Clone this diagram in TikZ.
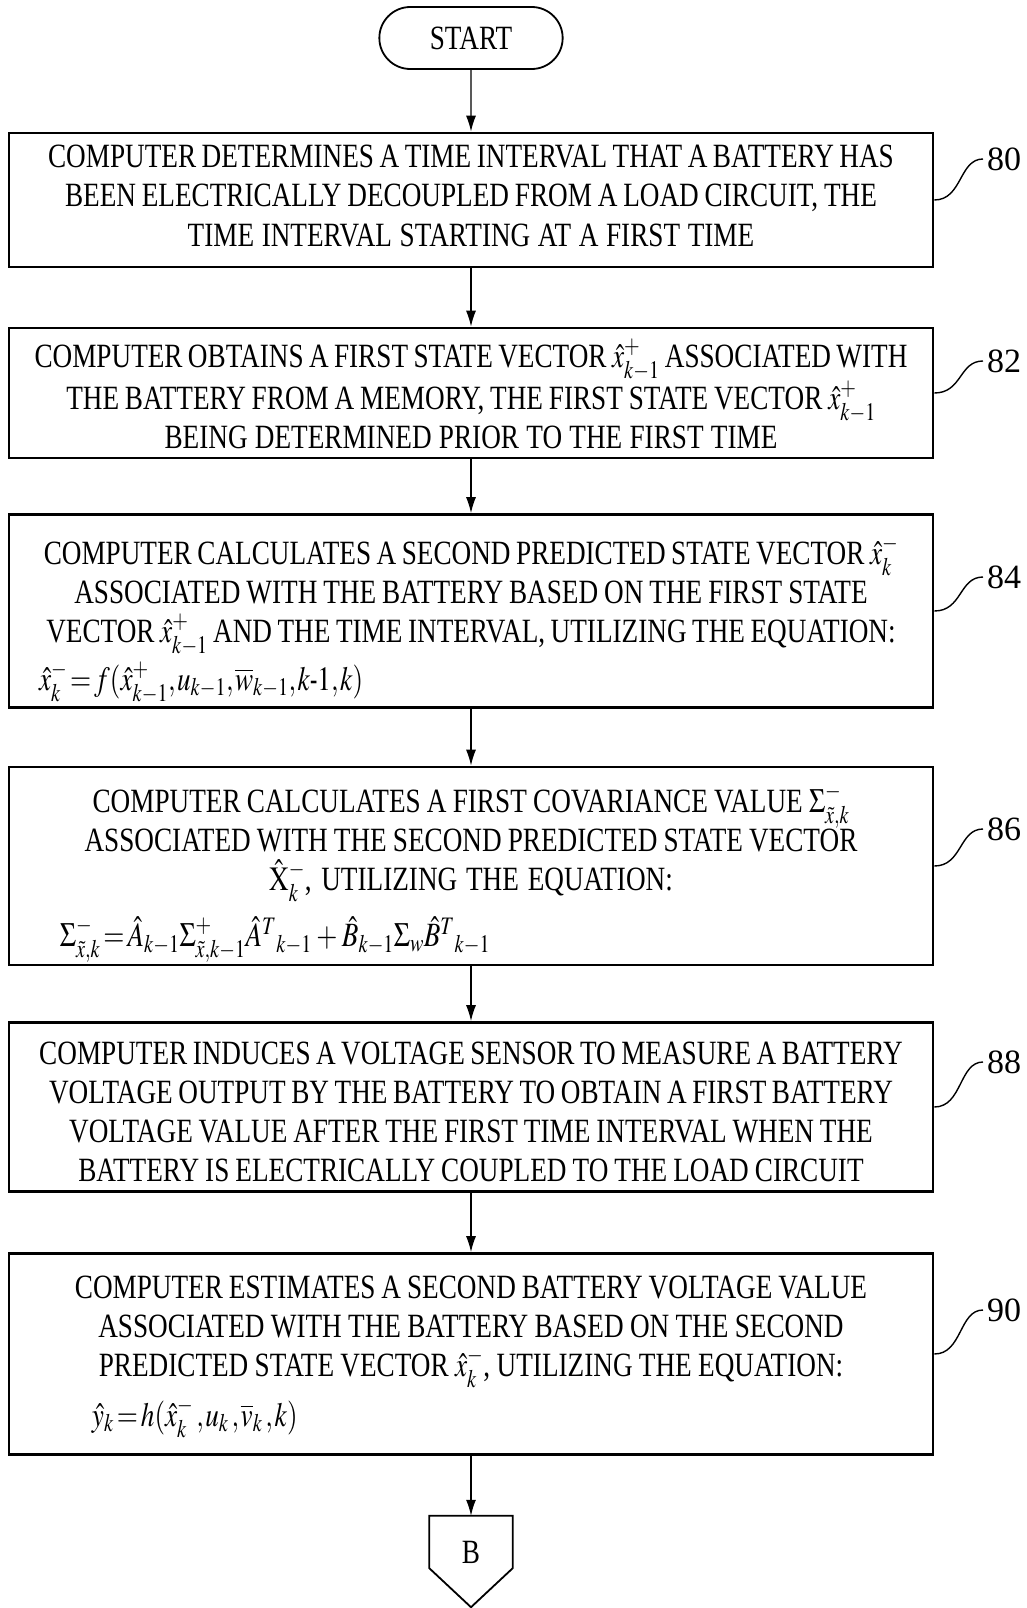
\documentclass[tikz,border=0pt]{standalone}
\usepackage{mathptmx}
\usepackage[no-math]{fontspec}
\setmainfont[FakeStretch=0.8]{Liberation Serif}
\newfontfamily\labelfont{Liberation Serif}
\usetikzlibrary{arrows.meta,shapes.misc,calc}

% condensed maths, as in the printed figure
\newcommand{\nmath}[1]{\scalebox{0.8}[1]{$#1$}}

\tikzset{
  stepbox/.style={draw, line width=2.6pt, minimum width=924pt, text width=924pt,
    inner xsep=0pt, inner ysep=0pt, align=center, font=\fontsize{34}{39}\selectfont,
    execute at begin node={\spaceskip=5pt plus 1pt\relax\thickmuskip=2mu\medmuskip=3mu\thinmuskip=1mu}},
  startbox/.style={draw, rounded rectangle, line width=1.8pt, minimum width=190pt,
    minimum height=62pt, font=\fontsize{34}{39}\selectfont},
  flowarrow/.style={line width=1.4pt, -{Latex[length=16pt,width=10pt]}},
  refnum/.style={font=\labelfont\fontsize{34}{39}\selectfont, anchor=west, inner sep=0pt},
  leader/.style={line width=1.4pt},
}

\begin{document}
\begin{tikzpicture}[x=1pt,y=-1pt]
  \useasboundingbox (0,0) rectangle (1027,1608);

  % flow chart steps
  \node[startbox] (start) at (471,38) {START};

  \node[stepbox, text height=35pt, text depth=99pt] (b80) at (471,200) {COMPUTER DETERMINES A TIME INTERVAL THAT A BATTERY HAS\\
    BEEN ELECTRICALLY DECOUPLED FROM A LOAD CIRCUIT, THE\\
    TIME INTERVAL STARTING AT A FIRST TIME};

  \node[stepbox, text height=39pt, text depth=91pt] (b82) at (471,393) {COMPUTER OBTAINS A FIRST STATE VECTOR \nmath{\hat{x}^{+}_{k-1}} ASSOCIATED WITH\\
    THE BATTERY FROM A MEMORY, THE FIRST STATE VECTOR \nmath{\hat{x}^{+}_{k-1}}\\
    BEING DETERMINED PRIOR TO THE FIRST TIME};

  \node[stepbox, text height=50pt, text depth=143pt] (b84) at (471,611) {COMPUTER CALCULATES A SECOND PREDICTED STATE VECTOR \nmath{\hat{x}^{-}_{k}}\\
    ASSOCIATED WITH THE BATTERY BASED ON THE FIRST STATE\\
    VECTOR \nmath{\hat{x}^{+}_{k-1}} AND THE TIME INTERVAL, UTILIZING THE EQUATION:\\[5pt]
    \makebox[\linewidth][l]{\hspace{30pt}\nmath{\hat{x}^{-}_{k}=f(\hat{x}^{+}_{k-1},u_{k-1},\overline{w}_{k-1},k\mbox{-}1,k)}}};

  \node[stepbox, text height=45pt, text depth=153pt] (b86) at (471,866) {COMPUTER CALCULATES A FIRST COVARIANCE VALUE \nmath{\Sigma^{-}_{\tilde{x},k}}\\
    ASSOCIATED WITH THE SECOND PREDICTED STATE VECTOR\\
    \nmath{\hat{\mathrm{X}}^{-}_{k}}, UTILIZING THE EQUATION:\\[14pt]
    \makebox[\linewidth][l]{\hspace{51pt}\nmath{\Sigma^{-}_{\tilde{x},k}=\hat{A}_{k-1}\Sigma^{+}_{\tilde{x},k-1}\hat{A}^{T}{}_{k-1}+\hat{B}_{k-1}\Sigma_{w}\hat{B}^{T}{}_{k-1}}}};

  \node[stepbox, text height=42pt, text depth=127pt] (b88) at (471,1107) {COMPUTER INDUCES A VOLTAGE SENSOR TO MEASURE A BATTERY\\
    VOLTAGE OUTPUT BY THE BATTERY TO OBTAIN A FIRST BATTERY\\
    VOLTAGE VALUE AFTER THE FIRST TIME INTERVAL WHEN THE\\
    BATTERY IS ELECTRICALLY COUPLED TO THE LOAD CIRCUIT};

  \node[stepbox, text height=45pt, text depth=156pt] (b90) at (471,1354) {COMPUTER ESTIMATES A SECOND BATTERY VOLTAGE VALUE\\
    ASSOCIATED WITH THE BATTERY BASED ON THE SECOND\\
    PREDICTED STATE VECTOR \nmath{\hat{x}^{-}_{k}}, UTILIZING THE EQUATION:\\[9pt]
    \makebox[\linewidth][l]{\hspace{83pt}\nmath{\hat{y}_{k}=h(\hat{x}^{-}_{k}\;,u_{k}\;,\overline{v}_{k}\;,k)}}};

  % off-page connector
  \node[minimum width=83pt, minimum height=52pt, inner sep=0pt, text height=42pt, text depth=0pt,
    font=\fontsize{34}{39}\selectfont] (conB) at (471,1542) {B};
  \draw[line width=1.8pt] (conB.north west) -- (conB.north east) -- (conB.south east)
    -- ($(conB.south)+(0,39)$) -- (conB.south west) -- cycle;

  % arrows
  \draw[flowarrow] (start) -- (b80);
  \draw[flowarrow] (b80) -- (b82);
  \draw[flowarrow] (b82) -- (b84);
  \draw[flowarrow] (b84) -- (b86);
  \draw[flowarrow] (b86) -- (b88);
  \draw[flowarrow] (b88) -- (b90);
  \draw[flowarrow] (b90) -- (conB);

  % reference numerals
  \node[refnum] (n80) at (987,159) {80};
  \node[refnum] (n82) at (987,361) {82};
  \node[refnum] (n84) at (987,577) {84};
  \node[refnum] (n86) at (987,829) {86};
  \node[refnum] (n88) at (987,1062) {88};
  \node[refnum] (n90) at (987,1310) {90};
  \foreach \n in {80,82,84,86,88,90}{% leader lines
    \draw[leader] (b\n.east) .. controls +(28,0) and +(-24,0) .. ([xshift=-4pt]n\n.west);
  }
\end{tikzpicture}
\end{document}
